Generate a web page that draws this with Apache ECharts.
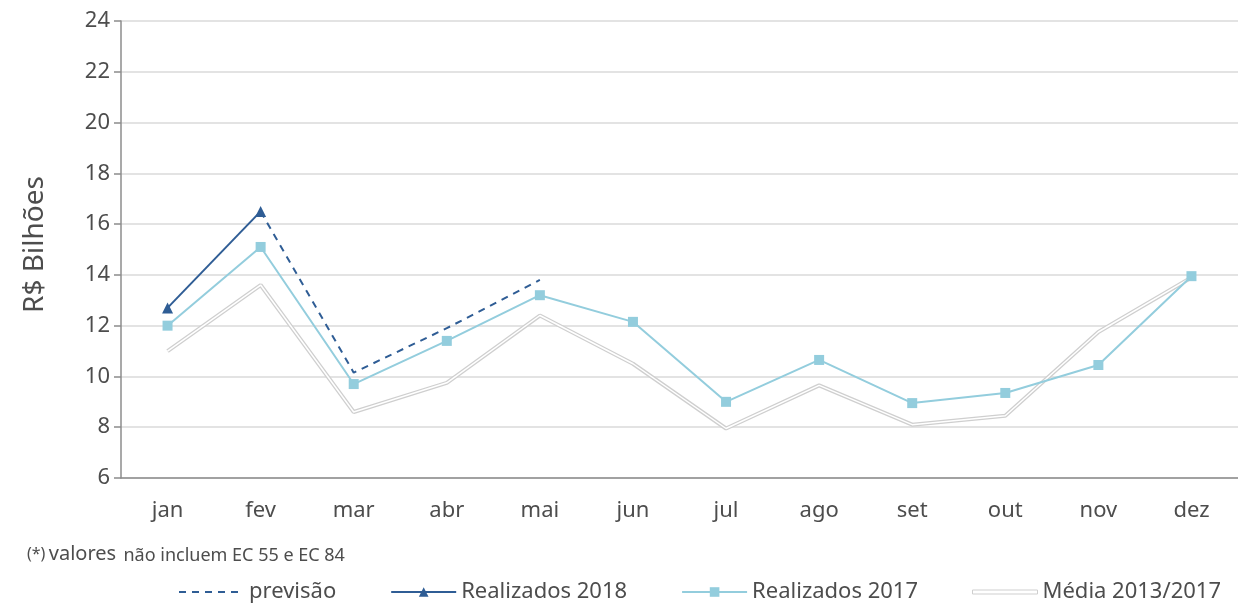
<!DOCTYPE html>
<html style="height: 100%">
    <head>
        <meta charset="utf-8">
    </head>
    <body style="height: 100%; margin: 0; background: #fff">
        <div id="container" style="width: 1238px; height: 605px"></div>

        <script type="text/javascript" src="https://cdn.jsdelivr.net/npm/echarts@6/dist/echarts.min.js"></script>
        <script type="text/javascript">
var months = ['jan', 'fev', 'mar', 'abr', 'mai', 'jun', 'jul', 'ago', 'set', 'out', 'nov', 'dez'];
var previsao = [null, 16.5, 10.15, 11.9, 13.8, null, null, null, null, null, null, null];
var realizados2018 = [12.7, 16.5];
var realizados2017 = [12.0, 15.1, 9.7, 11.4, 13.2, 12.15, 9.0, 10.65, 8.95, 9.35, 10.45, 13.95];
var media = [11.0, 13.6, 8.6, 9.75, 12.4, 10.5, 7.95, 9.65, 8.1, 8.45, 11.75, 13.9];

var dom = document.getElementById('container');
var myChart = echarts.init(dom);
var font = 'Noto Sans';
var textColor = '#4d4d4d';

var option = {
    backgroundColor: '#fff',
    animation: false,
    textStyle: { fontFamily: font },
    grid: {
        left: 121,
        right: -4,
        top: 21,
        bottom: 127
    },
    legend: {
        bottom: -3,
        left: 173,
        itemWidth: 65,
        itemHeight: 12,
        itemGap: 54,
        textStyle: { fontSize: 22, color: textColor, fontFamily: font },
        data: [
            { name: 'previsão', itemStyle: { opacity: 0 } },
            { name: 'Realizados 2018' },
            { name: 'Realizados 2017' },
            {
                name: 'Média 2013/2017',
                icon: 'path://M0,0 L65,0 L65,4 L0,4 Z',
                itemStyle: { color: '#fff', borderColor: '#cfcfcf', borderWidth: 1 }
            }
        ]
    },
    graphic: [
        {
            type: 'text',
            left: 27,
            top: 544,
            style: {
                text: '{a|(*)} {b|valores} {c|não incluem EC 55 e EC 84}',
                rich: {
                    a: { fontSize: 16, fill: textColor, fontFamily: font },
                    b: { fontSize: 20, fill: textColor, fontFamily: font },
                    c: { fontSize: 18, fill: textColor, fontFamily: font, padding: [4, 0, 0, 4] }
                }
            }
        }
    ],
    xAxis: {
        type: 'category',
        data: months,
        boundaryGap: true,
        axisLine: { lineStyle: { color: '#8c8c8c', width: 1.5 } },
        axisTick: { length: 7, lineStyle: { color: '#8c8c8c', width: 1.5 } },
        axisLabel: { fontSize: 22, color: textColor, margin: 22, fontFamily: font }
    },
    yAxis: {
        type: 'value',
        min: 6,
        max: 24,
        interval: 2,
        name: 'R$ Bilhões',
        nameLocation: 'middle',
        nameGap: 72,
        nameTextStyle: { fontSize: 28, color: textColor, fontFamily: font, padding: [0, 0, 0, 10] },
        axisLine: { show: true, lineStyle: { color: '#8c8c8c', width: 1.5 } },
        axisTick: { show: true, length: 7, lineStyle: { color: '#8c8c8c', width: 1.5 } },
        axisLabel: { fontSize: 22, color: textColor, margin: 11, fontFamily: font },
        splitLine: { lineStyle: { color: '#e3e3e3', width: 2 } }
    },
    series: [
        {
            name: 'Média 2013/2017',
            type: 'line',
            data: media,
            symbol: 'none',
            z: 1,
            lineStyle: { color: '#cfcfcf', width: 4 },
            itemStyle: { color: '#cfcfcf' }
        },
        {
            name: 'Média 2013/2017 inner',
            type: 'line',
            data: media,
            symbol: 'none',
            z: 2,
            silent: true,
            lineStyle: { color: '#ffffff', width: 1.5 }
        },
        {
            name: 'previsão',
            type: 'line',
            data: previsao,
            symbol: 'none',
            z: 3,
            lineStyle: { color: '#2f5d95', width: 2, type: [7, 6] },
            itemStyle: { color: '#2f5d95' }
        },
        {
            name: 'Realizados 2017',
            type: 'line',
            data: realizados2017,
            symbol: 'rect',
            symbolSize: 10,
            z: 4,
            lineStyle: { color: '#93cddd', width: 2 },
            itemStyle: { color: '#93cddd' }
        },
        {
            name: 'Realizados 2018',
            type: 'line',
            data: realizados2018,
            symbol: 'triangle',
            symbolSize: 11,
            z: 5,
            lineStyle: { color: '#2f5d95', width: 2 },
            itemStyle: { color: '#2f5d95' }
        }
    ]
};

myChart.setOption(option);
        </script>
    </body>
</html>
